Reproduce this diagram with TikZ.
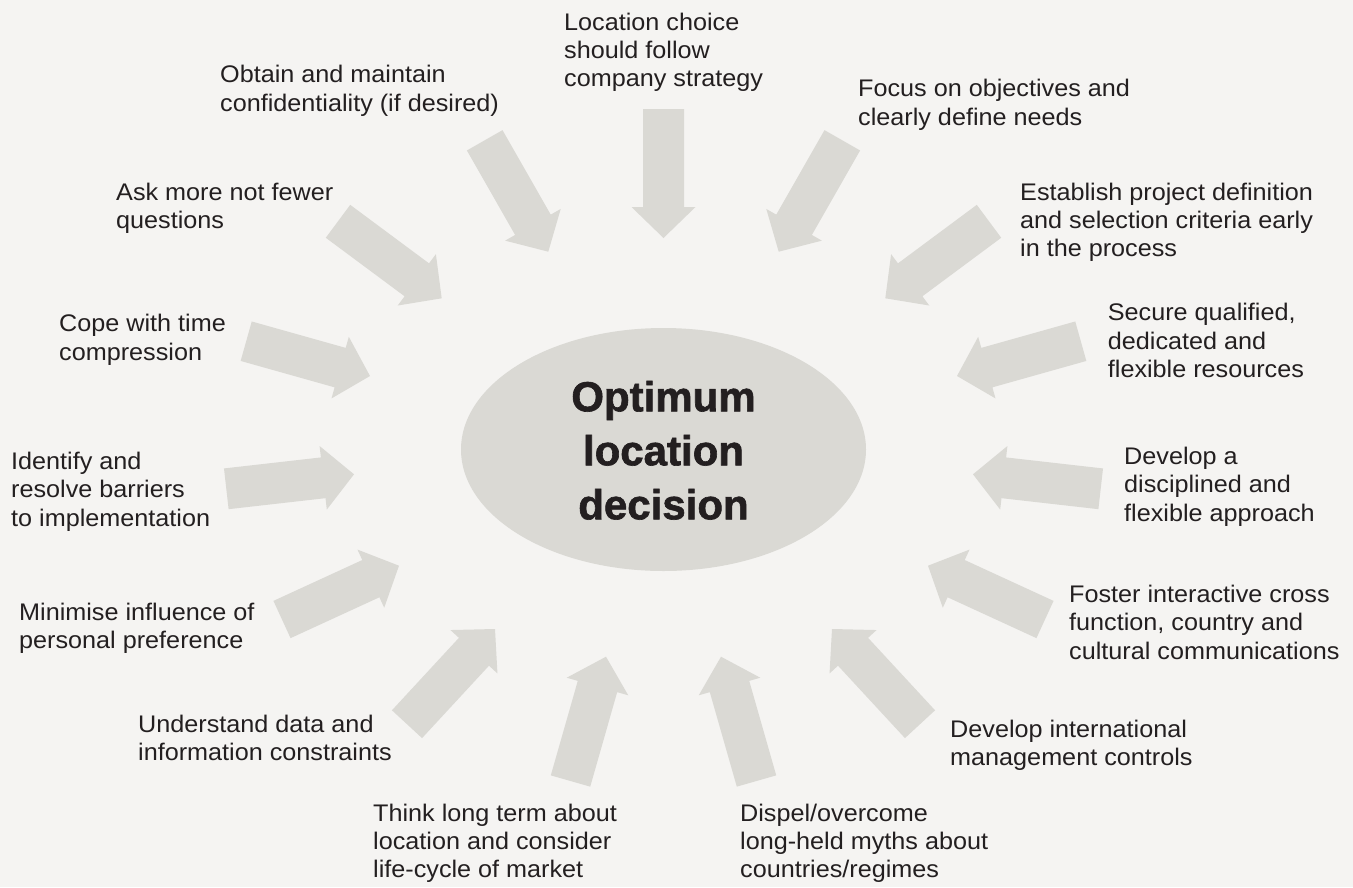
\documentclass[tikz,border=0pt]{standalone}
\usepackage{fontspec}
\usetikzlibrary{calc,shapes.geometric}
\newfontfamily\lblfont{Liberation Sans}[FakeStretch=1.05]
\newfontfamily\hubfont{Liberation Sans}[BoldFeatures={FakeBold=1.5}]
\definecolor{paper}{HTML}{F5F4F2}
\definecolor{arrowgray}{HTML}{DAD9D4}
\definecolor{ink}{HTML}{231F20}
% invisible strut fixing the height of a label's first line
\newcommand\lblstrut{\rule{0pt}{18pt}}
% broad block arrow from a tail coordinate (#1) to a tip coordinate (#2)
\newcommand\blockarrow[2]{%
  \fill[arrowgray] (#2)
    -- ($(#2)!31pt!(#1)!32pt!90:(#2)$)
    -- ($(#2)!31pt!(#1)!20.5pt!90:(#2)$)
    -- ($(#1)!20.5pt!90:(#2)$)
    -- ($(#1)!20.5pt!-90:(#2)$)
    -- ($(#2)!31pt!(#1)!20.5pt!-90:(#2)$)
    -- ($(#2)!31pt!(#1)!32pt!-90:(#2)$)
    -- cycle;}
\begin{document}
\begin{tikzpicture}[x=1pt,y=-1pt,
  note/.style={anchor=north west, inner sep=0pt, align=left, text=ink,
    font=\lblfont\fontsize{24}{28.3}\selectfont}]
\fill[paper] (0,0) rectangle (1353,887);
\useasboundingbox (0,0) rectangle (1353,887);

% central ellipse
\node[ellipse, fill=arrowgray, minimum width=405pt, minimum height=243pt,
  inner sep=0pt, align=center, text=ink,
  font=\hubfont\bfseries\fontsize{42}{54}\selectfont] (hub) at (663.5,449.5)
  {\rule{0pt}{32pt}Optimum\\location\\decision};

% arrow tails (t) and tips (h)
\coordinate (tloc) at (663.5,109);   \coordinate (hloc) at (663.5,238);
\coordinate (tobt) at (484.7,140.3); \coordinate (hobt) at (548.3,251.7);
\coordinate (task) at (338,221.3);   \coordinate (hask) at (441.7,298.3);
\coordinate (tcop) at (246.2,341.2); \coordinate (hcop) at (370,376);
\coordinate (tide) at (226.3,488.8); \coordinate (hide) at (354,474.3);
\coordinate (tmin) at (282,619.5);   \coordinate (hmin) at (399,565.7);
\coordinate (tund) at (407,724.2);   \coordinate (hund) at (495,629);
\coordinate (tthi) at (570.5,781);   \coordinate (hthi) at (606,656.7);
\coordinate (tfoc) at (842.3,140.3); \coordinate (hfoc) at (778.7,251.7);
\coordinate (test) at (989,221.3);   \coordinate (hest) at (885.3,298.3);
\coordinate (tsec) at (1080.8,341.2);\coordinate (hsec) at (957,376);
\coordinate (tdev) at (1100.7,488.8);\coordinate (hdev) at (973,474.3);
\coordinate (tfos) at (1045,619.5);  \coordinate (hfos) at (928,565.7);
\coordinate (tint) at (920,724.2);   \coordinate (hint) at (832,629);
\coordinate (tdis) at (756.5,781);   \coordinate (hdis) at (721,656.7);

\blockarrow{tloc}{hloc}
\blockarrow{tobt}{hobt}
\blockarrow{task}{hask}
\blockarrow{tcop}{hcop}
\blockarrow{tide}{hide}
\blockarrow{tmin}{hmin}
\blockarrow{tund}{hund}
\blockarrow{tthi}{hthi}
\blockarrow{tfoc}{hfoc}
\blockarrow{test}{hest}
\blockarrow{tsec}{hsec}
\blockarrow{tdev}{hdev}
\blockarrow{tfos}{hfos}
\blockarrow{tint}{hint}
\blockarrow{tdis}{hdis}

% labels: position is the left end of the first baseline minus the strut
\node[note] (loc) at (564,12)   {\lblstrut Location choice\\should follow\\company strategy};
\node[note] (obt) at (220,64.7) {\lblstrut Obtain and maintain\\confidentiality (if desired)};
\node[note] (foc) at (858,78.7) {\lblstrut Focus on objectives and\\clearly define needs};
\node[note] (ask) at (116,182)  {\lblstrut Ask more not fewer\\questions};
\node[note] (est) at (1020,182) {\lblstrut Establish project definition\\and selection criteria early\\in the process};
\node[note] (cop) at (59,313.7) {\lblstrut Cope with time\\compression};
\node[note] (sec) at (1107.7,302.7) {\lblstrut Secure qualified,\\dedicated and\\flexible resources};
\node[note] (ide) at (11,451.3) {\lblstrut Identify and\\resolve barriers\\to implementation};
\node[note] (dev) at (1124,446.3) {\lblstrut Develop a\\disciplined and\\flexible approach};
\node[note] (min) at (19,602)   {\lblstrut Minimise influence of\\personal preference};
\node[note] (fos) at (1069,584.3) {\lblstrut Foster interactive cross\\function, country and\\cultural communications};
\node[note] (und) at (138,714)  {\lblstrut Understand data and\\information constraints};
\node[note] (int) at (950,719.3) {\lblstrut Develop international\\management controls};
\node[note] (thi) at (373,803)  {\lblstrut Think long term about\\location and consider\\life-cycle of market};
\node[note] (dis) at (740,803)  {\lblstrut Dispel/overcome\\long-held myths about\\countries/regimes};
\end{tikzpicture}
\end{document}
